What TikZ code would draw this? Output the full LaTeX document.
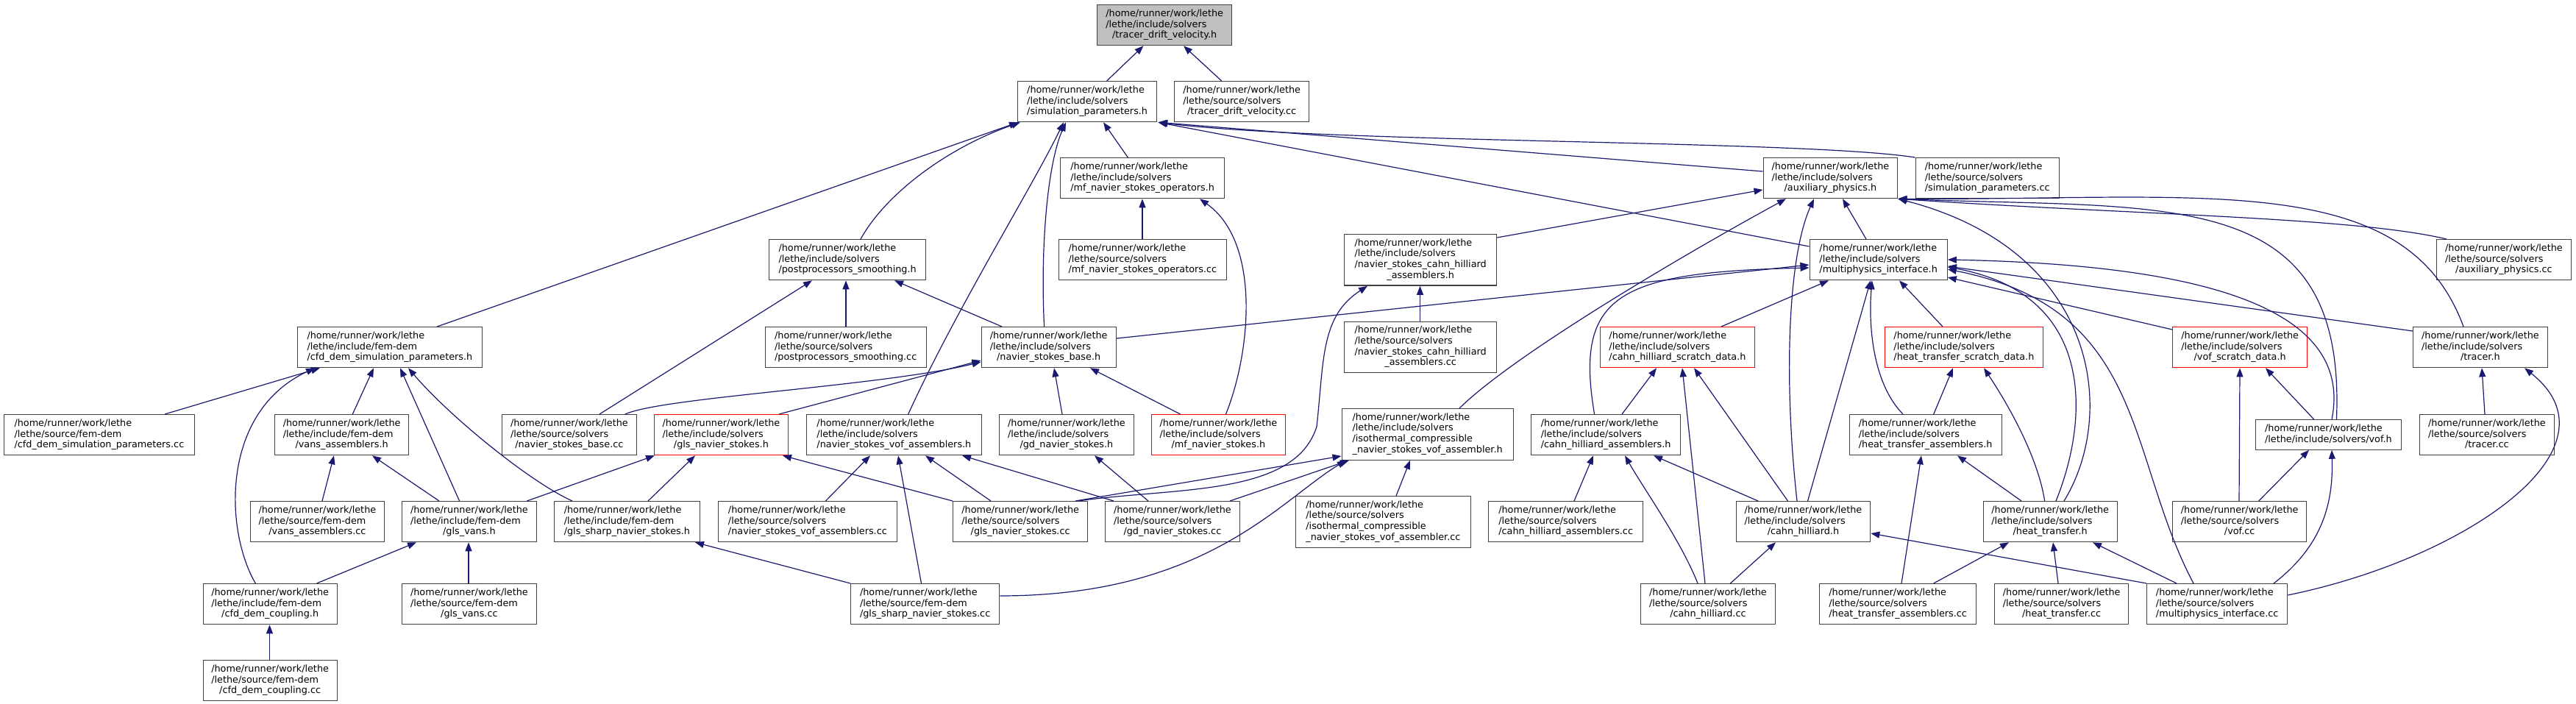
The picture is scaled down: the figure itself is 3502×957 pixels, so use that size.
\documentclass[tikz,border=0pt]{standalone}
\usepackage{fontspec}
\newfontfamily\dgfont{DejaVu Sans}
\usetikzlibrary{arrows.meta}
\definecolor{dgEdge}{RGB}{25,25,112}
\definecolor{dgBorder}{RGB}{64,64,64}
\definecolor{dgRoot}{RGB}{191,191,191}
\definecolor{dgTrunc}{RGB}{255,0,0}
% all lines but the last are left aligned, the last one is centred
\newcommand{\flab}[2]{\begin{tabular}{@{}l@{}}#1\\\multicolumn{1}{@{}c@{}}{#2}\end{tabular}}

\begin{document}
\begin{tikzpicture}[x=1pt,y=-1pt,
  file/.style={draw=dgBorder,line width=1.3pt,fill=white,inner sep=0pt,
               anchor=north west,minimum height=55pt,
               font=\dgfont\fontsize{12.8}{14.7}\selectfont},
  trunc/.style={file,draw=dgTrunc},
  root/.style={file,fill=dgRoot},
  dep/.style={draw=dgEdge,line width=1.2pt,
              -{Triangle[length=12pt,width=9pt]}}]
\useasboundingbox (0,0) rectangle (3502,957);

% ===== rank 0 / 1 / 2 =====
\node[root,minimum width=183pt] (tdvh) at (1491,6)
   {\flab{/home/runner/work/lethe\\/lethe/include/solvers}{/tracer\_drift\_velocity.h}};
\node[file,minimum width=189pt] (sph) at (1383,110)
   {\flab{/home/runner/work/lethe\\/lethe/include/solvers}{/simulation\_parameters.h}};
\node[file,minimum width=183pt] (tdvcc) at (1596,110)
   {\flab{/home/runner/work/lethe\\/lethe/source/solvers}{/tracer\_drift\_velocity.cc}};
\node[file,minimum width=223pt] (mfoh) at (1441,214)
   {\flab{/home/runner/work/lethe\\/lethe/include/solvers}{/mf\_navier\_stokes\_operators.h}};
\node[file,minimum width=182.5pt] (auxh) at (2396.5,214)
   {\flab{/home/runner/work/lethe\\/lethe/include/solvers}{/auxiliary\_physics.h}};
\node[file,minimum width=195pt] (spcc) at (2603.5,214)
   {\flab{/home/runner/work/lethe\\/lethe/source/solvers}{/simulation\_parameters.cc}};

% ===== rank 3 =====
\node[file,minimum width=213pt] (ppsh) at (1045,325)
   {\flab{/home/runner/work/lethe\\/lethe/include/solvers}{/postprocessors\_smoothing.h}};
\node[file,minimum width=227.5pt] (mfocc) at (1439,325)
   {\flab{/home/runner/work/lethe\\/lethe/source/solvers}{/mf\_navier\_stokes\_operators.cc}};
\node[file,minimum width=207pt,minimum height=69.5pt] (nschh) at (1827,318)
   {\flab{/home/runner/work/lethe\\/lethe/include/solvers\\/navier\_stokes\_cahn\_hilliard}{\_assemblers.h}};
\node[file,minimum width=187pt] (mpih) at (2459.5,325)
   {\flab{/home/runner/work/lethe\\/lethe/include/solvers}{/multiphysics\_interface.h}};
\node[file,minimum width=182.5pt] (auxcc) at (3312,325)
   {\flab{/home/runner/work/lethe\\/lethe/source/solvers}{/auxiliary\_physics.cc}};

% ===== rank 4 =====
\node[file,minimum width=251.5pt] (cfdsph) at (403.5,444)
   {\flab{/home/runner/work/lethe\\/lethe/include/fem-dem}{/cfd\_dem\_simulation\_parameters.h}};
\node[file,minimum width=219pt] (ppscc) at (1039.5,444)
   {\flab{/home/runner/work/lethe\\/lethe/source/solvers}{/postprocessors\_smoothing.cc}};
\node[file,minimum width=183pt] (nsbh) at (1333.5,444)
   {\flab{/home/runner/work/lethe\\/lethe/include/solvers}{/navier\_stokes\_base.h}};
\node[file,minimum width=207pt,minimum height=69.5pt] (nschcc) at (1827,436.5)
   {\flab{/home/runner/work/lethe\\/lethe/source/solvers\\/navier\_stokes\_cahn\_hilliard}{\_assemblers.cc}};
\node[trunc,minimum width=210.5pt] (chsdh) at (2174.5,444)
   {\flab{/home/runner/work/lethe\\/lethe/include/solvers}{/cahn\_hilliard\_scratch\_data.h}};
\node[trunc,minimum width=214.5pt] (htsdh) at (2562,444)
   {\flab{/home/runner/work/lethe\\/lethe/include/solvers}{/heat\_transfer\_scratch\_data.h}};
\node[trunc,minimum width=183pt] (vofsdh) at (2953,444)
   {\flab{/home/runner/work/lethe\\/lethe/include/solvers}{/vof\_scratch\_data.h}};
\node[file,minimum width=182.5pt] (tracerh) at (3280,444)
   {\flab{/home/runner/work/lethe\\/lethe/include/solvers}{/tracer.h}};

% ===== rank 5 =====
\node[file,minimum width=259.5pt] (cfdspcc) at (4.5,563)
   {\flab{/home/runner/work/lethe\\/lethe/source/fem-dem}{/cfd\_dem\_simulation\_parameters.cc}};
\node[file,minimum width=182pt] (vansh) at (373,563)
   {\flab{/home/runner/work/lethe\\/lethe/include/fem-dem}{/vans\_assemblers.h}};
\node[file,minimum width=182.5pt] (nsbcc) at (682,563)
   {\flab{/home/runner/work/lethe\\/lethe/source/solvers}{/navier\_stokes\_base.cc}};
\node[trunc,minimum width=182.5pt] (glsnsh) at (888.5,563)
   {\flab{/home/runner/work/lethe\\/lethe/include/solvers}{/gls\_navier\_stokes.h}};
\node[file,minimum width=238.5pt] (nsvofh) at (1095.5,563)
   {\flab{/home/runner/work/lethe\\/lethe/include/solvers}{/navier\_stokes\_vof\_assemblers.h}};
\node[file,minimum width=182.5pt] (gdnsh) at (1358,563)
   {\flab{/home/runner/work/lethe\\/lethe/include/solvers}{/gd\_navier\_stokes.h}};
\node[trunc,minimum width=182.5pt] (mfnsh) at (1564.5,563)
   {\flab{/home/runner/work/lethe\\/lethe/include/solvers}{/mf\_navier\_stokes.h}};
\node[file,minimum width=233pt,minimum height=69.5pt] (isoh) at (1823.5,555)
   {\flab{/home/runner/work/lethe\\/lethe/include/solvers\\/isothermal\_compressible}{\_navier\_stokes\_vof\_assembler.h}};
\node[file,minimum width=203pt] (chah) at (2081,563)
   {\flab{/home/runner/work/lethe\\/lethe/include/solvers}{/cahn\_hilliard\_assemblers.h}};
\node[file,minimum width=207pt] (htah) at (2513.5,563)
   {\flab{/home/runner/work/lethe\\/lethe/include/solvers}{/heat\_transfer\_assemblers.h}};
\node[file,minimum width=197.5pt,minimum height=40.5pt] (vofh) at (3066,570)
   {\flab{/home/runner/work/lethe}{/lethe/include/solvers/vof.h}};
\node[file,minimum width=182.5pt] (tracercc) at (3289,563)
   {\flab{/home/runner/work/lethe\\/lethe/source/solvers}{/tracer.cc}};

% ===== rank 6 =====
\node[file,minimum width=182.5pt] (vanscc) at (339.5,681)
   {\flab{/home/runner/work/lethe\\/lethe/source/fem-dem}{/vans\_assemblers.cc}};
\node[file,minimum width=182.5pt] (glsvansh) at (546,681)
   {\flab{/home/runner/work/lethe\\/lethe/include/fem-dem}{/gls\_vans.h}};
\node[file,minimum width=197.5pt] (glssharph) at (753,681)
   {\flab{/home/runner/work/lethe\\/lethe/include/fem-dem}{/gls\_sharp\_navier\_stokes.h}};
\node[file,minimum width=243.5pt] (nsvofcc) at (975.5,681)
   {\flab{/home/runner/work/lethe\\/lethe/source/solvers}{/navier\_stokes\_vof\_assemblers.cc}};
\node[file,minimum width=183pt] (glsnscc) at (1295,681)
   {\flab{/home/runner/work/lethe\\/lethe/source/solvers}{/gls\_navier\_stokes.cc}};
\node[file,minimum width=182.5pt] (gdnscc) at (1502,681)
   {\flab{/home/runner/work/lethe\\/lethe/source/solvers}{/gd\_navier\_stokes.cc}};
\node[file,minimum width=238.5pt,minimum height=69.5pt] (isocc) at (1760.5,674)
   {\flab{/home/runner/work/lethe\\/lethe/source/solvers\\/isothermal\_compressible}{\_navier\_stokes\_vof\_assembler.cc}};
\node[file,minimum width=210pt] (chacc) at (2023,681)
   {\flab{/home/runner/work/lethe\\/lethe/source/solvers}{/cahn\_hilliard\_assemblers.cc}};
\node[file,minimum width=182.5pt] (chh) at (2359.5,681)
   {\flab{/home/runner/work/lethe\\/lethe/include/solvers}{/cahn\_hilliard.h}};
\node[file,minimum width=182pt] (hth) at (2695.5,681)
   {\flab{/home/runner/work/lethe\\/lethe/include/solvers}{/heat\_transfer.h}};
\node[file,minimum width=182pt] (vofcc) at (2953,681)
   {\flab{/home/runner/work/lethe\\/lethe/source/solvers}{/vof.cc}};

% ===== rank 7 / 8 =====
\node[file,minimum width=182pt] (cfdch) at (275.5,793)
   {\flab{/home/runner/work/lethe\\/lethe/include/fem-dem}{/cfd\_dem\_coupling.h}};
\node[file,minimum width=182.5pt] (glsvanscc) at (546,793)
   {\flab{/home/runner/work/lethe\\/lethe/source/fem-dem}{/gls\_vans.cc}};
\node[file,minimum width=202pt] (glssharpcc) at (1156,793)
   {\flab{/home/runner/work/lethe\\/lethe/source/fem-dem}{/gls\_sharp\_navier\_stokes.cc}};
\node[file,minimum width=182.5pt] (chcc) at (2230,793)
   {\flab{/home/runner/work/lethe\\/lethe/source/solvers}{/cahn\_hilliard.cc}};
\node[file,minimum width=213pt] (htacc) at (2473,793)
   {\flab{/home/runner/work/lethe\\/lethe/source/solvers}{/heat\_transfer\_assemblers.cc}};
\node[file,minimum width=182pt] (htcc) at (2711,793)
   {\flab{/home/runner/work/lethe\\/lethe/source/solvers}{/heat\_transfer.cc}};
\node[file,minimum width=191pt] (mpicc) at (2918,793)
   {\flab{/home/runner/work/lethe\\/lethe/source/solvers}{/multiphysics\_interface.cc}};
\node[file,minimum width=182pt] (cfdccc) at (275.5,897)
   {\flab{/home/runner/work/lethe\\/lethe/source/fem-dem}{/cfd\_dem\_coupling.cc}};

% ===== include edges (arrow at the included file) =====
% tracer_drift_velocity.h
\draw[dep] ([xshift=121.6pt]sph.north west) -- ([xshift=63.5pt]tdvh.south west);
\draw[dep] ([xshift=64.7pt]tdvcc.north west) -- ([xshift=118pt]tdvh.south west);
% simulation_parameters.h
\draw[dep] ([xshift=190.7pt]cfdsph.north west) -- ([xshift=1pt]sph.south west);
\draw[dep] ([xshift=125pt]ppsh.north west) .. controls (1205,262) and (1290,200) .. ([xshift=4pt]sph.south west);
\draw[dep] ([xshift=86.1pt]nsbh.north west) .. controls (1414,330) and (1425,220) .. ([xshift=66pt]sph.south west);
\draw[dep] ([xshift=139.2pt]nsvofh.north west) .. controls (1300,420) and (1400,260) .. ([xshift=63pt]sph.south west);
\draw[dep] ([xshift=92.3pt]mfoh.north west) -- ([xshift=117pt]sph.south west);
\draw[dep] ([yshift=-19pt]auxh.north west) -- ([xshift=1pt]sph.south east);
\draw[dep] ([yshift=-10pt]mpih.north west) -- ([xshift=1pt]sph.south east);
\draw[dep] (spcc.north west) .. controls (2450,190) and (1800,195) .. ([xshift=2pt]sph.south east);
% mf_navier_stokes_operators.h
\draw[dep] ([xshift=114pt]mfocc.north west) -- ([xshift=112pt]mfoh.south west);
\draw[dep] ([xshift=102pt]mfnsh.north west) .. controls (1700,480) and (1715,330) .. ([xshift=190pt]mfoh.south west);
% postprocessors_smoothing.h
\draw[dep] ([xshift=110.5pt]ppscc.north west) -- ([xshift=105pt]ppsh.south west);
\draw[dep] ([xshift=28.5pt]nsbh.north west) -- ([xshift=171pt]ppsh.south west);
\draw[dep] ([xshift=133pt]nsbcc.north west) -- ([xshift=59pt]ppsh.south west);
% navier_stokes_base.h
\draw[dep] ([xshift=168pt]nsbcc.north west) .. controls (900,540) and (1200,525) .. ([yshift=-48pt]nsbh.north west);
\draw[dep] ([xshift=170.5pt]glsnsh.north west) -- ([yshift=-46pt]nsbh.north west);
\draw[dep] ([xshift=86pt]gdnsh.north west) -- ([xshift=99.5pt]nsbh.south west);
\draw[dep] ([xshift=40.1pt]mfnsh.north west) -- ([xshift=148.5pt]nsbh.south west);
% auxiliary_physics.h
\draw[dep] ([yshift=-5pt]nschh.north east) -- ([yshift=-44pt]auxh.north west);
\draw[dep] ([xshift=160.5pt]isoh.north west) .. controls (2060,480) and (2300,340) .. ([xshift=31.5pt]auxh.south west);
\draw[dep] ([xshift=83.5pt]chh.north west) .. controls (2425,520) and (2430,350) .. ([xshift=69.5pt]auxh.south west);
\draw[dep] ([xshift=77.5pt]mpih.north west) -- ([xshift=108.5pt]auxh.south west);
\draw[dep] ([xshift=110.5pt]hth.north west) .. controls (2880,560) and (2850,340) .. (auxh.south east);
\draw[dep] ([xshift=110.4pt]vofh.north west) .. controls (3190,250) and (2950,285) .. (auxh.south east);
\draw[dep] ([xshift=69pt]tracerh.north west) .. controls (3270,230) and (3000,272) .. (auxh.south east);
\draw[dep] ([xshift=14pt]auxcc.north west) .. controls (3200,295) and (2900,292) .. (auxh.south east);
% multiphysics_interface.h
\draw[dep] ([yshift=-16pt]nsbh.north east) -- ([yshift=-35pt]mpih.north west);
\draw[dep] ([xshift=86.6pt]chah.north west) .. controls (2140,400) and (2200,370) .. ([yshift=-39pt]mpih.north west);
\draw[dep] ([xshift=165.5pt]chsdh.north west) -- ([xshift=26.5pt]mpih.south west);
\draw[dep] ([xshift=98pt]chh.north west) -- ([xshift=83.5pt]mpih.south west);
\draw[dep] ([xshift=73.5pt]htah.north west) .. controls (2545,520) and (2540,440) .. ([xshift=85.5pt]mpih.south west);
\draw[dep] ([xshift=79pt]htsdh.north west) -- ([xshift=122.5pt]mpih.south west);
\draw[dep] ([xshift=104pt]vofh.north west) .. controls (3200,420) and (3000,360) .. ([yshift=-28pt]mpih.north east);
\draw[dep] ([yshift=-6pt]tracerh.north west) -- ([yshift=-37pt]mpih.north east);
\draw[dep] ([yshift=-4pt]vofsdh.north west) -- ([yshift=-52pt]mpih.north east);
\draw[dep] ([xshift=99.5pt]hth.north west) .. controls (2840,570) and (2850,400) .. ([yshift=-38pt]mpih.north east);
\draw[dep] ([xshift=64pt]mpicc.north west) .. controls (2890,620) and (2920,420) .. ([yshift=-41pt]mpih.north east);
% cfd_dem_simulation_parameters.h
\draw[dep] ([xshift=219.5pt]cfdspcc.north west) -- ([xshift=31.5pt]cfdsph.south west);
\draw[dep] ([xshift=106.3pt]vansh.north west) -- ([xshift=104.5pt]cfdsph.south west);
\draw[dep] ([xshift=78.6pt]glsvansh.north west) -- ([xshift=140.5pt]cfdsph.south west);
\draw[dep] ([xshift=25pt]glssharph.north west) .. controls (720,655) and (610,565) .. ([xshift=151.5pt]cfdsph.south west);
\draw[dep] ([xshift=71.8pt]cfdch.north west) .. controls (305,720) and (300,560) .. ([xshift=24.5pt]cfdsph.south west);
% navier_stokes_cahn_hilliard_assemblers.h
\draw[dep] ([xshift=103.5pt]nschcc.north west) -- ([xshift=103.5pt]nschh.south west);
\draw[dep] ([xshift=171pt]glsnscc.north west) .. controls (1600,662) and (1760,675) .. (1790,580)
   .. controls (1800,490) and (1795,430) .. ([xshift=32pt]nschh.south west);
% cahn_hilliard_scratch_data.h
\draw[dep] ([xshift=124pt]chah.north west) -- ([xshift=77.5pt]chsdh.south west);
\draw[dep] ([xshift=88pt]chcc.north west) -- ([xshift=112.5pt]chsdh.south west);
\draw[dep] ([xshift=71pt]chh.north west) -- ([xshift=128.5pt]chsdh.south west);
% heat_transfer_scratch_data.h
\draw[dep] ([xshift=115.2pt]htah.north west) -- ([xshift=93pt]htsdh.south west);
\draw[dep] ([xshift=84.2pt]hth.north west) .. controls (2770,620) and (2730,550) .. ([xshift=135pt]htsdh.south west);
% vof_scratch_data.h
\draw[dep] ([xshift=79.7pt]vofh.north west) -- ([xshift=127pt]vofsdh.south west);
\draw[dep] ([xshift=91pt]vofcc.north west) -- ([xshift=92pt]vofsdh.south west);
% tracer.h
\draw[dep] ([xshift=89pt]tracercc.north west) -- ([xshift=94pt]tracerh.south west);
\draw[dep] ([yshift=-16pt]mpicc.north east) .. controls (3350,760) and (3570,610) .. ([xshift=152pt]tracerh.south west);
% vans_assemblers.h
\draw[dep] ([xshift=98.5pt]vanscc.north west) -- ([xshift=81pt]vansh.south west);
\draw[dep] ([xshift=51pt]glsvansh.north west) -- ([xshift=133pt]vansh.south west);
% gls_navier_stokes.h
\draw[dep] ([xshift=170.4pt]glsvansh.north west) -- ([xshift=1.5pt]glsnsh.south west);
\draw[dep] ([xshift=128pt]glssharph.north west) -- ([xshift=56.5pt]glsnsh.south west);
\draw[dep] (glsnscc.north west) -- ([xshift=175.5pt]glsnsh.south west);
% navier_stokes_vof_assemblers.h
\draw[dep] ([xshift=146.9pt]nsvofcc.north west) -- ([xshift=87.5pt]nsvofh.south west);
\draw[dep] ([xshift=96.5pt]glssharpcc.north west) -- ([xshift=125.5pt]nsvofh.south west);
\draw[dep] ([xshift=52pt]glsnscc.north west) -- ([xshift=162.5pt]nsvofh.south west);
\draw[dep] ([xshift=12pt]gdnscc.north west) -- ([xshift=212.5pt]nsvofh.south west);
% gd_navier_stokes.h
\draw[dep] ([xshift=59pt]gdnscc.north west) -- ([xshift=130pt]gdnsh.south west);
% isothermal_compressible_navier_stokes_vof_assembler.h
\draw[dep] ([xshift=137.5pt]isocc.north west) -- ([xshift=93.5pt]isoh.south west);
\draw[dep] ([xshift=167pt]glsnscc.north west) -- ([yshift=-65pt]isoh.north west);
\draw[dep] ([xshift=170pt]gdnscc.north west) -- ([xshift=10.5pt]isoh.south west);
\draw[dep] ([yshift=-17pt]glssharpcc.north east) .. controls (1640,810) and (1740,680) .. ([xshift=6.5pt]isoh.south west);
% cahn_hilliard_assemblers.h
\draw[dep] ([xshift=117pt]chacc.north west) -- ([xshift=85pt]chah.south west);
\draw[dep] ([xshift=78pt]chcc.north west) .. controls (2285,735) and (2235,665) .. ([xshift=128pt]chah.south west);
\draw[dep] ([xshift=30.5pt]chh.north west) -- ([xshift=167pt]chah.south west);
% heat_transfer_assemblers.h
\draw[dep] ([xshift=112pt]htacc.north west) -- ([xshift=98.5pt]htah.south west);
\draw[dep] ([xshift=52.5pt]hth.north west) -- ([xshift=147.5pt]htah.south west);
% vof.h
\draw[dep] ([xshift=117.7pt]vofcc.north west) -- ([xshift=73pt]vofh.south west);
\draw[dep] ([xshift=173pt]mpicc.north west) .. controls (3160,740) and (3172,680) .. ([xshift=104pt]vofh.south west);
% gls_vans.h
\draw[dep] ([xshift=155pt]cfdch.north west) -- ([xshift=20pt]glsvansh.south west);
\draw[dep] ([xshift=91pt]glsvanscc.north west) -- ([xshift=91pt]glsvansh.south west);
% gls_sharp_navier_stokes.h
\draw[dep] (glssharpcc.north west) -- ([xshift=192pt]glssharph.south west);
% cahn_hilliard.h
\draw[dep] ([xshift=122.4pt]chcc.north west) -- ([xshift=54.5pt]chh.south west);
\draw[dep] (mpicc.north west) -- ([yshift=-44pt]chh.north east);
% heat_transfer.h
\draw[dep] ([xshift=155.7pt]htacc.north west) -- ([xshift=35.5pt]hth.south west);
\draw[dep] ([xshift=87pt]htcc.north west) -- ([xshift=95.5pt]hth.south west);
\draw[dep] ([xshift=41pt]mpicc.north west) -- ([xshift=149.5pt]hth.south west);
% cfd_dem_coupling.h
\draw[dep] ([xshift=91pt]cfdccc.north west) -- ([xshift=91pt]cfdch.south west);
\end{tikzpicture}
\end{document}
